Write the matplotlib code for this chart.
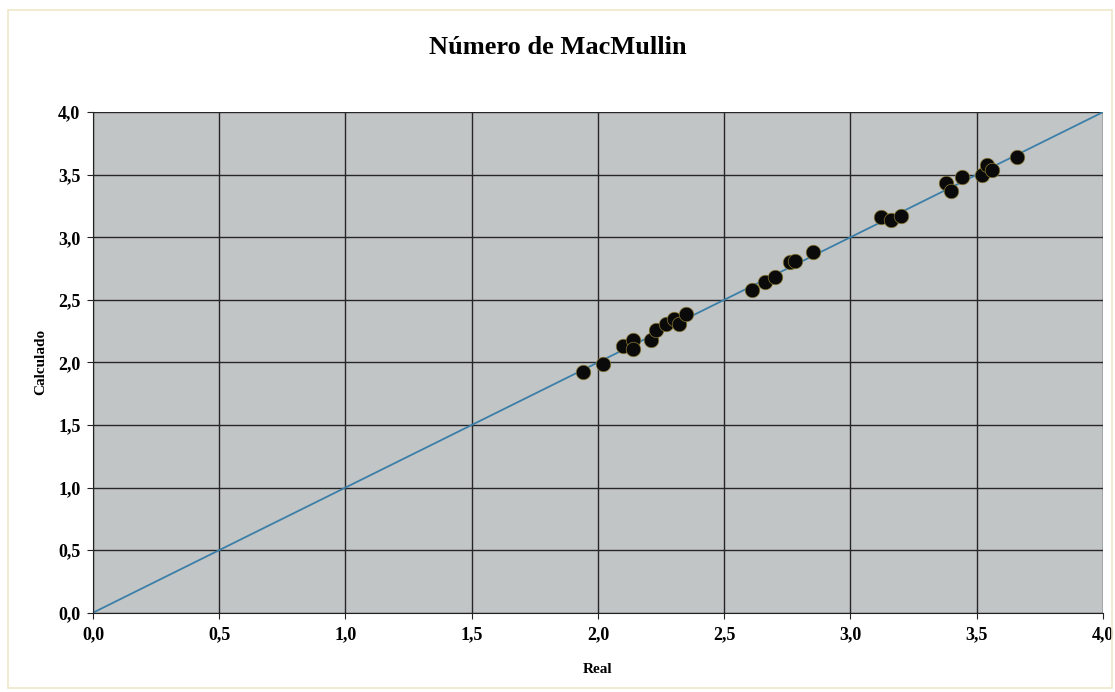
import matplotlib.pyplot as plt
from matplotlib.patches import Rectangle
from matplotlib.ticker import FuncFormatter, MultipleLocator

# Número de MacMullin: valores reales frente a calculados
real = [1.94, 2.02, 2.10, 2.14, 2.14, 2.21, 2.23, 2.27, 2.30, 2.32, 2.35,
        2.61, 2.66, 2.70, 2.76, 2.78, 2.85,
        3.12, 3.16, 3.20, 3.38, 3.40, 3.44, 3.52, 3.54, 3.56, 3.66]
calculado = [1.92, 1.99, 2.13, 2.18, 2.11, 2.18, 2.26, 2.31, 2.35, 2.31, 2.39,
             2.58, 2.64, 2.68, 2.80, 2.81, 2.88,
             3.16, 3.14, 3.17, 3.43, 3.37, 3.48, 3.50, 3.58, 3.54, 3.64]
linea = [0.0, 4.0]

plt.rcParams['font.family'] = ['Liberation Serif', 'DejaVu Serif']
plt.rcParams['font.weight'] = 'bold'

fig = plt.figure(figsize=(11.15, 6.92), dpi=100)
ax = fig.add_axes([0.0834, 0.1146, 0.9058, 0.7234])

# marco del gráfico
fig.patches.append(Rectangle((0.007, 0.006), 0.99, 0.979, transform=fig.transFigure,
                             fill=False, edgecolor='#efe9c8', lw=1.2))

ax.set_facecolor('#c2c5c6')
ax.plot(linea, linea, color='#3b7fa8', lw=1.3, zorder=2)
ax.scatter(real, calculado, s=110, color='#0a0a0a', edgecolors='#8a7a30',
           linewidths=0.5, zorder=3)

ax.set_xlim(0, 4)
ax.set_ylim(0, 4)
ax.xaxis.set_major_locator(MultipleLocator(0.5))
ax.yaxis.set_major_locator(MultipleLocator(0.5))
coma = FuncFormatter(lambda v, p: f'{v:.1f}'.replace('.', ','))
ax.xaxis.set_major_formatter(coma)
ax.yaxis.set_major_formatter(coma)
ax.grid(True, color='#262626', lw=1.0)
ax.set_axisbelow(True)
for s in ['top', 'right']:
    ax.spines[s].set_visible(False)
for s in ['left', 'bottom']:
    ax.spines[s].set_color('#222222')
ax.tick_params(labelsize=13, length=4, color='#222222')
ax.tick_params(axis='x', pad=6)
ax.tick_params(axis='y', pad=5)
for lab in ax.get_xticklabels() + ax.get_yticklabels():
    lab.set_fontweight('bold')

ax.set_xlabel('Real', fontsize=11, fontweight='bold', labelpad=14)
ax.set_ylabel('Calculado', fontsize=11, fontweight='bold', labelpad=8)
fig.text(0.5, 0.932, 'Número de MacMullin', ha='center', va='center',
         fontsize=19, fontweight='bold')

fig.savefig('out.png', dpi=100)
